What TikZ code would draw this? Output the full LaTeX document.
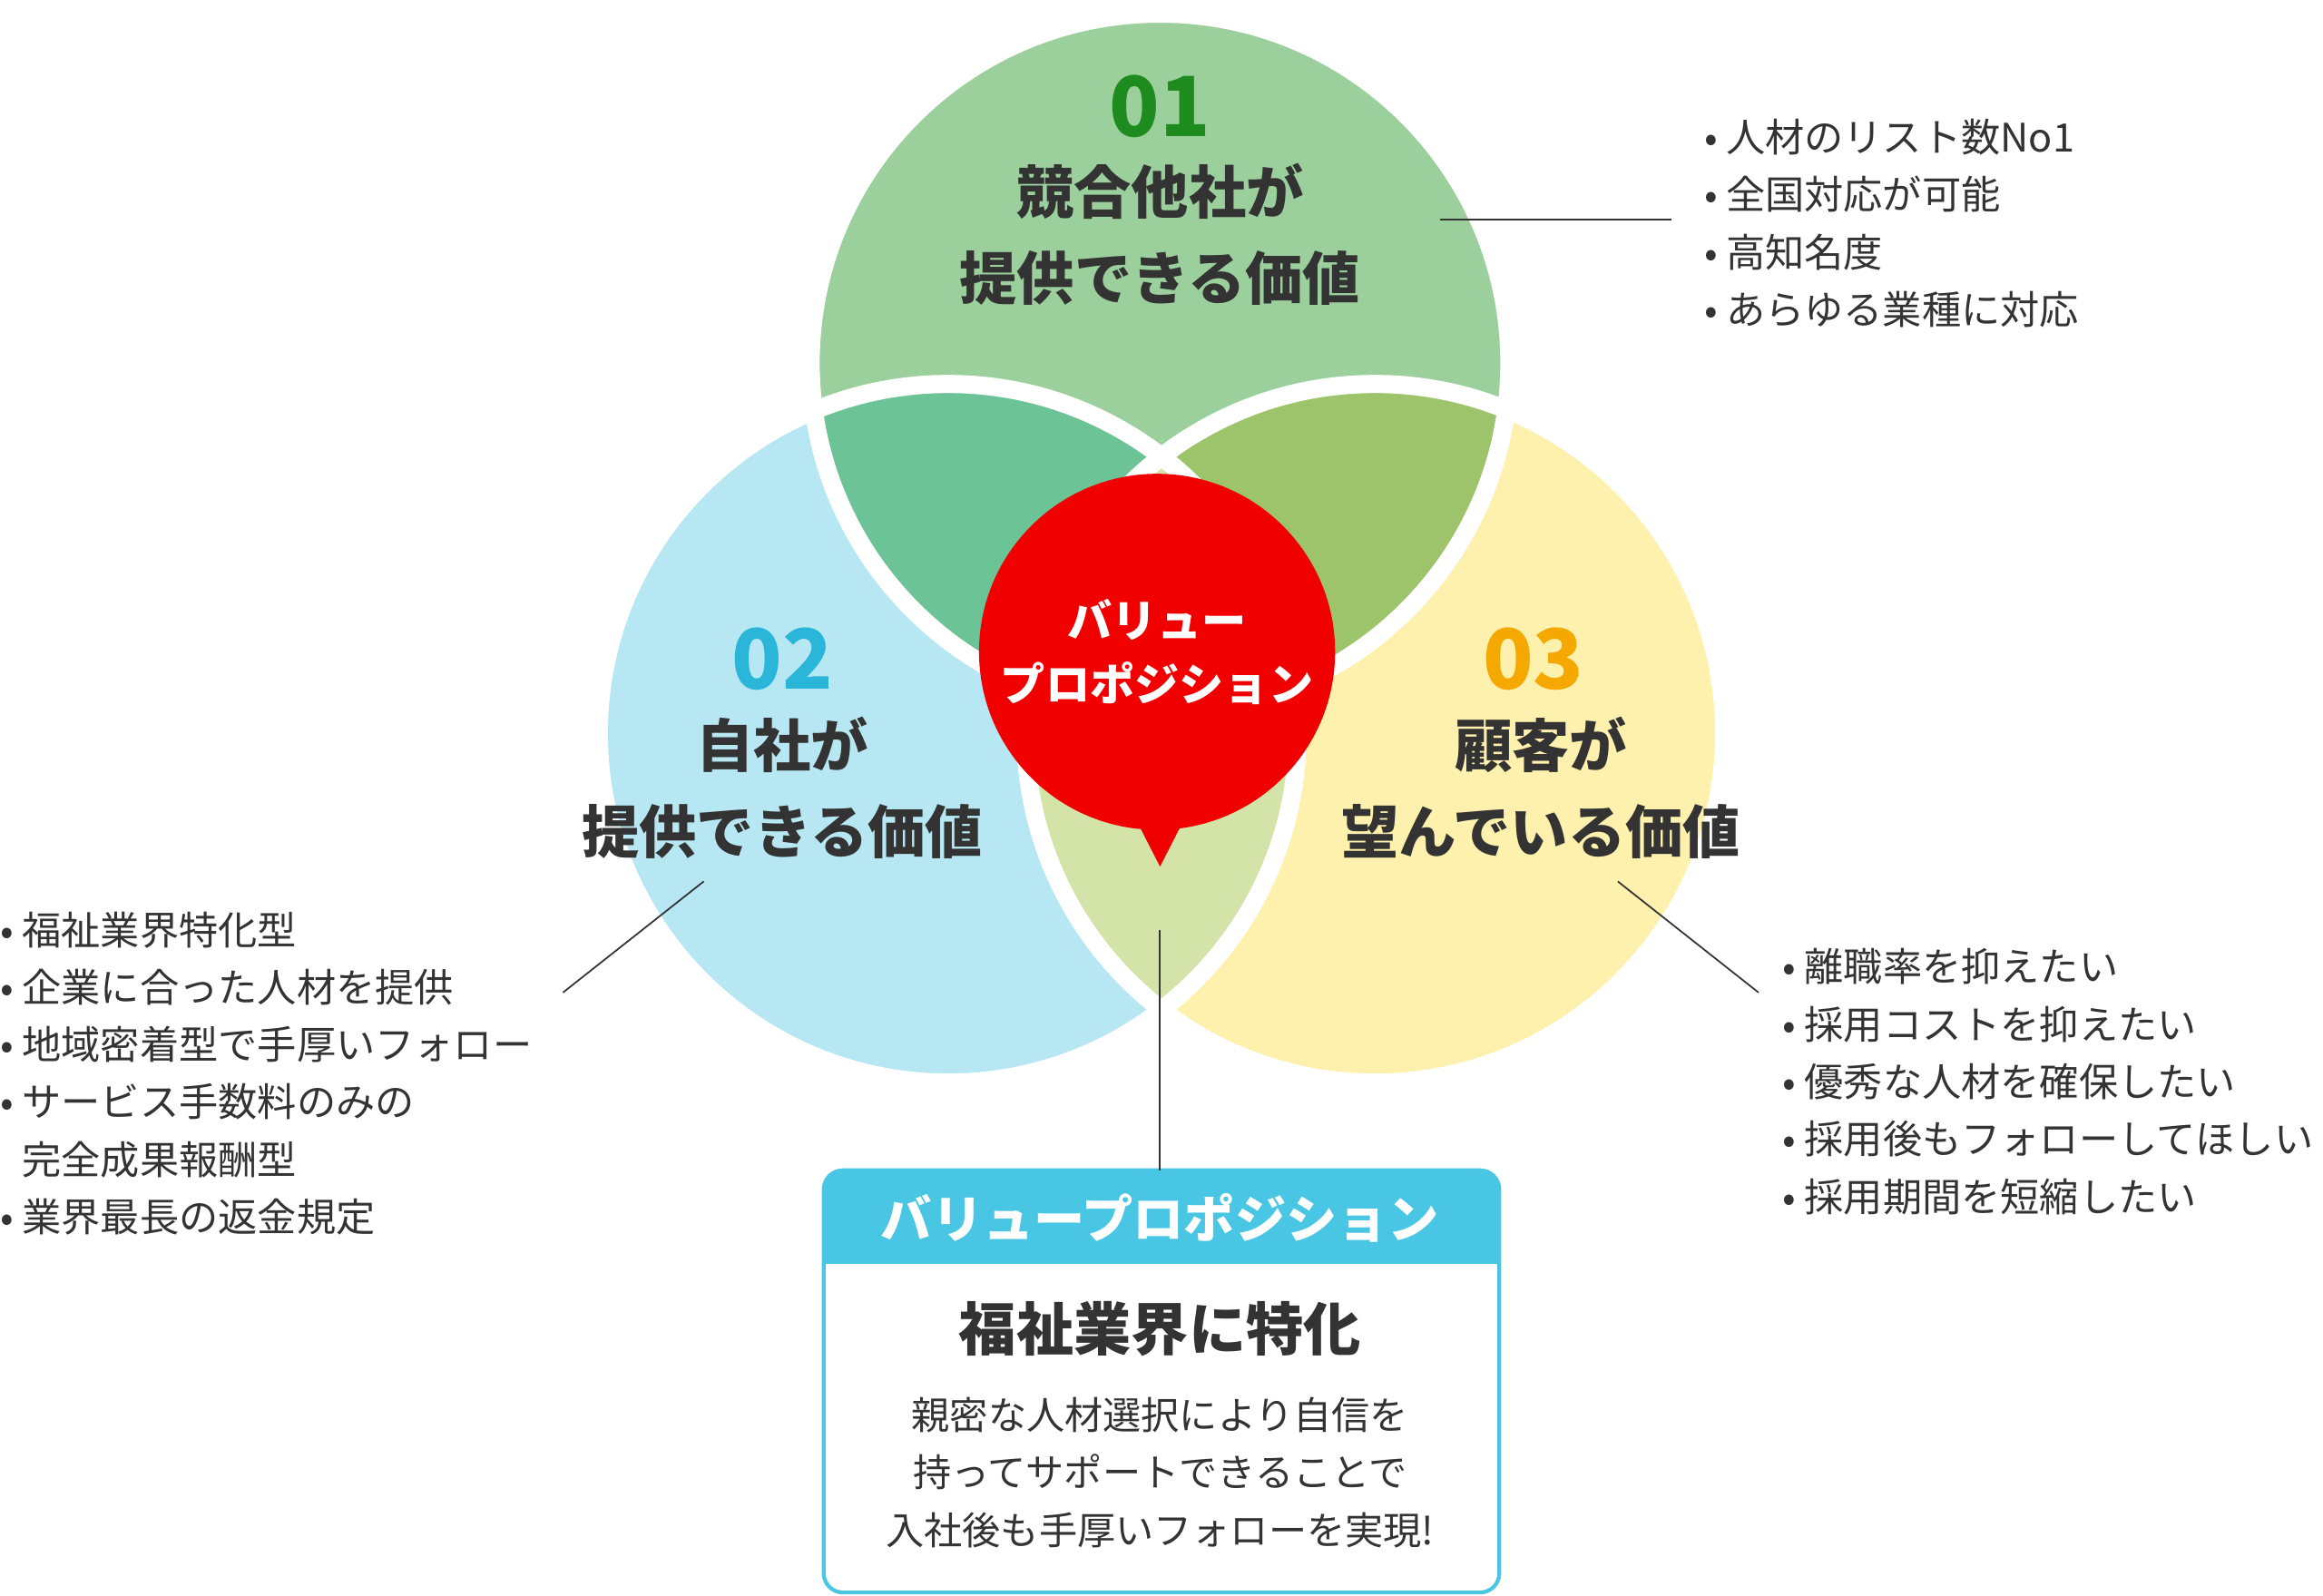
\documentclass[tikz,border=0pt]{standalone}
\usepackage{fontspec}
\setmainfont{Noto Sans CJK JP}
\usetikzlibrary{positioning}
\definecolor{cgreen}{HTML}{9BD09C}
\definecolor{cblue}{HTML}{B6E7F3}
\definecolor{cyellow}{HTML}{FEF0AD}
\definecolor{gb}{HTML}{6CC396}
\definecolor{gy}{HTML}{9DC46A}
\definecolor{by}{HTML}{D4E4A8}
\definecolor{num1}{HTML}{1E8B1E}
\definecolor{num2}{HTML}{29B6D8}
\definecolor{num3}{HTML}{F5A800}
\definecolor{vpred}{HTML}{F00000}
\definecolor{vphead}{HTML}{48C6E4}
\definecolor{txt}{HTML}{333333}
\newcommand{\bul}{\makebox[0.55em][l]{•}}
\tikzset{
  numlbl/.style={font=\fontsize{26}{28}\selectfont\bfseries},
  ttl/.style={font=\fontsize{18}{27}\selectfont\bfseries, text=txt, align=center},
  lst/.style={font=\fontsize{12.3}{18}\selectfont, text=txt, align=left, anchor=north west, inner sep=0pt},
  lead/.style={draw=txt, line width=0.5pt}
}
\begin{document}
\begin{tikzpicture}[x=0.01633cm, y=-0.01633cm]
\useasboundingbox (0,0) rectangle (1568,1077);
\def\R{3.85cm}
% Circles
\coordinate (cg) at (783,245);
\coordinate (cb) at (640,495);
\coordinate (cy) at (928,495);
\fill[cblue] (cb) circle (\R);
\fill[cyellow] (cy) circle (\R);
\fill[cgreen] (cg) circle (\R);
% Overlaps
\begin{scope}
  \clip (cg) circle (\R);
  \fill[gb] (cb) circle (\R);
  \fill[gy] (cy) circle (\R);
\end{scope}
\begin{scope}
  \clip (cb) circle (\R);
  \fill[by] (cy) circle (\R);
\end{scope}
\foreach \c in {cg,cb,cy}
  \draw[white, line width=0.2cm] (\c) circle (\R);
% Titles
\node[numlbl, text=num1] (n1) at (783,72) {01};
\node[ttl] (t1) at (783,158) {競合他社が\\提供できる価値};
\node[numlbl, text=num2] (n2) at (528,445) {02};
\node[ttl] (t2) at (528,532) {自社が\\提供できる価値};
\node[numlbl, text=num3] (n3) at (1035,445) {03};
\node[ttl] (t3) at (1040,532) {顧客が\\望んでいる価値};
% Centre
\fill[vpred] (760,540) -- (783,585) -- (806,540) -- cycle;
\node[circle, fill=vpred, minimum size=3.76cm, text=white, align=center,
  font=\fontsize{14}{20}\selectfont\bfseries] (vp) at (781,440) {バリュー\\プロポジション};
% Lists
\node[lst] (l1) at (1150,80) {\bul 人材のリスト数No1\\\bul 全国対応が可能\\\bul 高知名度\\\bul あらゆる業種に対応};
\node[lst] (l2) at (0,615) {\bul 福祉業界特化型\\\bul 企業に合った人材を提供\\\bul 地域密着型で手厚いフォロー\\\bul サービス手数料のみの\\\hspace{0.55em}完全成果報酬型\\\bul 業界最長の返金規定};
\node[lst] (l3) at (1203,640) {\bul 離職率を抑えたい\\\bul 採用コストを抑えたい\\\bul 優秀な人材を確保したい\\\bul 採用後もフォローしてほしい\\\bul 採用期間を短縮したい};
\coordinate (a1) at (972,148); \coordinate (b1) at (1128,148);
\coordinate (a2) at (475,595); \coordinate (b2) at (380,670);
\coordinate (a3) at (1092,595); \coordinate (b3) at (1187,670);
\coordinate (a4) at (783,628);
\draw[lead] (a1) -- (b1);
\draw[lead] (a2) -- (b2);
\draw[lead] (a3) -- (b3);
% Box
\draw[vphead, line width=1.2pt, rounded corners=6pt, fill=white] (556,790) rectangle (1012,1075);
\fill[vphead, rounded corners=6pt] (556,790) rectangle (1012,853);
\fill[vphead] (556,830) rectangle (1012,853);
\coordinate (boxtop) at (783,790);
\draw[lead] (a4) -- (boxtop);
\node[text=white, font=\fontsize{16}{20}\selectfont\bfseries] (bh) at (783,822) {バリュープロポジション};
\node[ttl] (bt) at (783,897) {福祉業界に特化};
\node[font=\fontsize{12}{18}\selectfont, text=txt, align=center] (bb) at (783,994) {親密な人材選択により自信を\\持ってサポートできることで\\入社後も手厚いフォローを実現!};
\end{tikzpicture}
\end{document}
